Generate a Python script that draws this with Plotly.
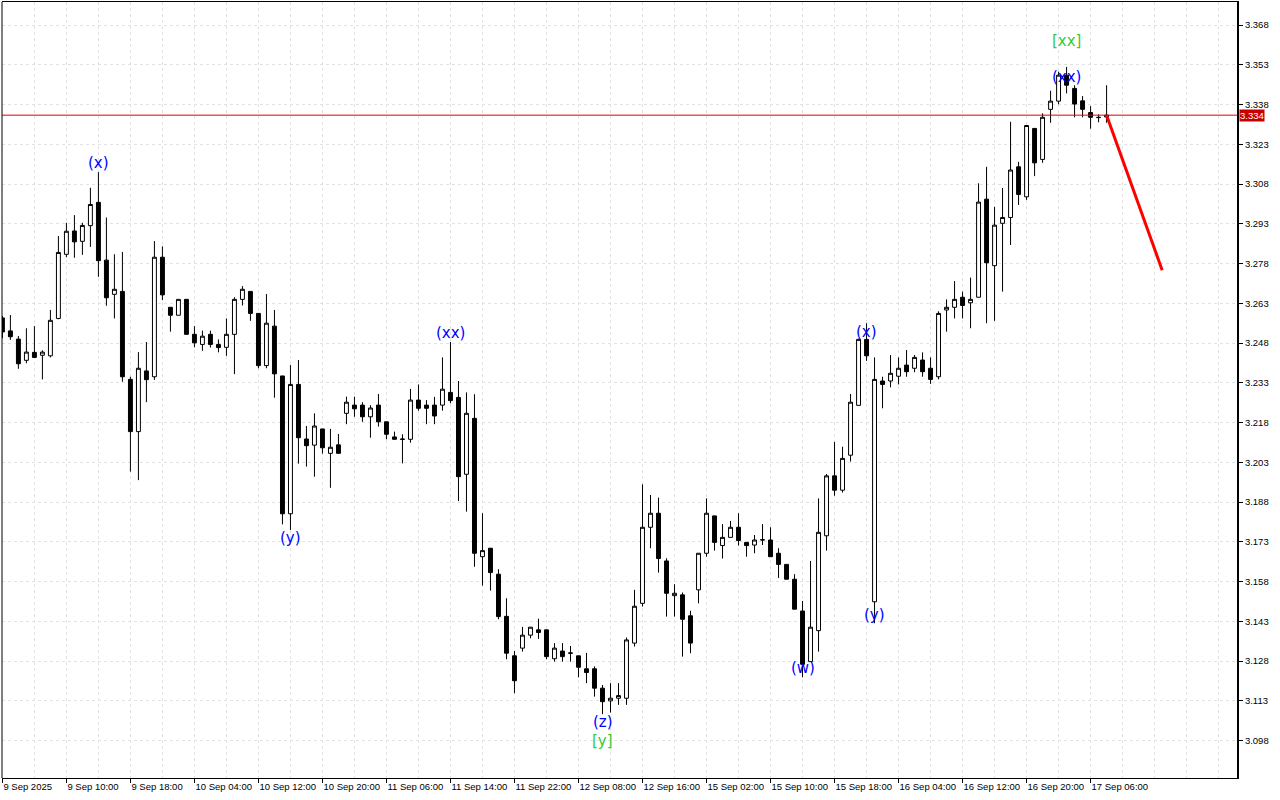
import plotly.graph_objects as go

# ---------------- data (hourly candles, index 0..138) ----------------
open_ = [3.2575, 3.2526, 3.2495, 3.2415, 3.2445, 3.2434, 3.2432, 3.2573, 3.2815, 3.2903,
         3.2864, 3.2923, 3.3011, 3.2793, 3.2664, 3.2675, 3.2343, 3.2146, 3.2375, 3.2353,
         3.2804, 3.2615, 3.2585, 3.2645, 3.2513, 3.2475, 3.2513, 3.2475, 3.2464, 3.2513,
         3.2645, 3.2675, 3.2592, 3.2395, 3.2544, 3.2356, 3.1836, 3.2324, 3.2118, 3.2095,
         3.2156, 3.2064, 3.2096, 3.2215, 3.2246, 3.2246, 3.2202, 3.2246, 3.2183, 3.2126,
         3.2118, 3.2117, 3.2265, 3.2246, 3.2246, 3.2246, 3.2294, 3.2275, 3.1985, 3.2196,
         3.1674, 3.1706, 3.1608, 3.1449, 3.1300, 3.1329, 3.1378, 3.1398, 3.1398, 3.1289,
         3.1318, 3.1311, 3.1300, 3.1251, 3.1251, 3.1178, 3.1130, 3.1140, 3.1140, 3.1348,
         3.1498, 3.1785, 3.1838, 3.1658, 3.1527, 3.1530, 3.1451, 3.1549, 3.1687, 3.1828,
         3.1716, 3.1747, 3.1785, 3.1728, 3.1718, 3.1737, 3.1737, 3.1687, 3.1645, 3.1589,
         3.1469, 3.1278, 3.1395, 3.1753, 3.1979, 3.1925, 3.2057, 3.2245, 3.2494, 3.1504,
         3.2337, 3.2337, 3.2355, 3.2397, 3.2385, 3.2416, 3.2385, 3.2353, 3.2605, 3.2615,
         3.2653, 3.2632, 3.2653, 3.3023, 3.2772, 3.2932, 3.2954, 3.3145, 3.3032, 3.3290,
         3.3173, 3.3362, 3.3393, 3.3491, 3.3441, 3.3394, 3.3350, 3.3332, 3.3333]
high = [3.2582, 3.2586, 3.2507, 3.2536, 3.2544, 3.2453, 3.2605, 3.2884, 3.2934, 3.2963,
        3.2934, 3.3066, 3.3125, 3.2954, 3.2815, 3.2824, 3.2353, 3.2446, 3.2484, 3.2865,
        3.2845, 3.2615, 3.2645, 3.2645, 3.2544, 3.2527, 3.2527, 3.2494, 3.2573, 3.2653,
        3.2695, 3.2675, 3.2592, 3.2665, 3.2605, 3.2356, 3.2397, 3.2416, 3.2167, 3.2215,
        3.2156, 3.2156, 3.2137, 3.2278, 3.2278, 3.2257, 3.2246, 3.2288, 3.2183, 3.2146,
        3.2136, 3.2307, 3.2324, 3.2265, 3.2277, 3.2426, 3.2484, 3.2337, 3.2294, 3.2287,
        3.1838, 3.1706, 3.1627, 3.1517, 3.1318, 3.1409, 3.1408, 3.1440, 3.1398, 3.1348,
        3.1348, 3.1337, 3.1300, 3.1311, 3.1260, 3.1190, 3.1197, 3.1197, 3.1369, 3.1549,
        3.1947, 3.1907, 3.1897, 3.1668, 3.1570, 3.1539, 3.1470, 3.1687, 3.1894, 3.1828,
        3.1797, 3.1809, 3.1838, 3.1728, 3.1756, 3.1797, 3.1785, 3.1706, 3.1645, 3.1608,
        3.1507, 3.1658, 3.1894, 3.1986, 3.2107, 3.2089, 3.2288, 3.2497, 3.2555, 3.2426,
        3.2353, 3.2435, 3.2426, 3.2454, 3.2435, 3.2445, 3.2426, 3.2600, 3.2645, 3.2714,
        3.2674, 3.2727, 3.3083, 3.3145, 3.2994, 3.3065, 3.3315, 3.3164, 3.3301, 3.3290,
        3.3347, 3.3432, 3.3504, 3.3522, 3.3453, 3.3412, 3.3374, 3.3343, 3.3453]
low = [3.2499, 3.2492, 3.2383, 3.2404, 3.2426, 3.2343, 3.2426, 3.2570, 3.2804, 3.2802,
       3.2813, 3.2843, 3.2730, 3.2621, 3.2573, 3.2334, 3.1995, 3.1963, 3.2257, 3.2341,
       3.2642, 3.2523, 3.2585, 3.2513, 3.2464, 3.2451, 3.2463, 3.2445, 3.2432, 3.2363,
       3.2622, 3.2564, 3.2385, 3.2385, 3.2274, 3.1796, 3.1775, 3.2025, 3.2014, 3.1976,
       3.2063, 3.1934, 3.2064, 3.2174, 3.2202, 3.2183, 3.2123, 3.2165, 3.2117, 3.2117,
       3.2026, 3.2104, 3.2225, 3.2174, 3.2174, 3.2225, 3.2253, 3.1884, 3.1844, 3.1636,
       3.1565, 3.1546, 3.1438, 3.1287, 3.1159, 3.1316, 3.1366, 3.1364, 3.1287, 3.1278,
       3.1278, 3.1278, 3.1219, 3.1197, 3.1146, 3.1080, 3.1086, 3.1115, 3.1115, 3.1335,
       3.1486, 3.1706, 3.1614, 3.1448, 3.1448, 3.1297, 3.1310, 3.1498, 3.1674, 3.1697,
       3.1667, 3.1747, 3.1716, 3.1674, 3.1687, 3.1718, 3.1674, 3.1594, 3.1589, 3.1476,
       3.1219, 3.1278, 3.1316, 3.1697, 3.1904, 3.1916, 3.2033, 3.2245, 3.2413, 3.1423,
       3.2234, 3.2313, 3.2324, 3.2353, 3.2370, 3.2353, 3.2326, 3.2343, 3.2523, 3.2573,
       3.2573, 3.2536, 3.2653, 3.2555, 3.2564, 3.2674, 3.2850, 3.3001, 3.3020, 3.3110,
       3.3160, 3.3311, 3.3381, 3.3422, 3.3332, 3.3332, 3.3289, 3.3313, 3.3311]
close = [3.2522, 3.2504, 3.2402, 3.2446, 3.2426, 3.2446, 3.2566, 3.2822, 3.2902, 3.2862,
         3.2924, 3.3003, 3.2791, 3.2651, 3.2683, 3.2353, 3.2146, 3.2385, 3.2342, 3.2804,
         3.2662, 3.2585, 3.2645, 3.2513, 3.2481, 3.2506, 3.2475, 3.2463, 3.2513, 3.2645,
         3.2683, 3.2592, 3.2395, 3.2555, 3.2364, 3.1836, 3.2324, 3.2123, 3.2093, 3.2167,
         3.2085, 3.2087, 3.2064, 3.2257, 3.2232, 3.2202, 3.2235, 3.2183, 3.2136, 3.2117,
         3.2117, 3.2265, 3.2234, 3.2234, 3.2205, 3.2306, 3.2263, 3.1976, 3.2215, 3.1687,
         3.1697, 3.1614, 3.1448, 3.1310, 3.1206, 3.1378, 3.1408, 3.1388, 3.1297, 3.1329,
         3.1297, 3.1310, 3.1257, 3.1237, 3.1178, 3.1127, 3.1140, 3.1150, 3.1360, 3.1487,
         3.1785, 3.1838, 3.1667, 3.1536, 3.1536, 3.1438, 3.1348, 3.1687, 3.1838, 3.1728,
         3.1747, 3.1785, 3.1735, 3.1716, 3.1737, 3.1738, 3.1674, 3.1645, 3.1589, 3.1476,
         3.1268, 3.1408, 3.1766, 3.1979, 3.1925, 3.2045, 3.2257, 3.2494, 3.2432, 3.2343,
         3.2324, 3.2366, 3.2385, 3.2372, 3.2426, 3.2372, 3.2343, 3.2592, 3.2615, 3.2645,
         3.2622, 3.2645, 3.3012, 3.2783, 3.2925, 3.2954, 3.3133, 3.3041, 3.3301, 3.3160,
         3.3332, 3.3393, 3.3491, 3.3453, 3.3382, 3.3362, 3.3332, 3.3331, 3.3340]

x_tick_idx = [0, 8, 16, 24, 32, 40, 48, 56, 64, 72, 80, 88, 96, 104, 112, 120, 128, 136]
x_tick_labels = ["9 Sep 2025", "9 Sep 10:00", "9 Sep 18:00", "10 Sep 04:00", "10 Sep 12:00",
                 "10 Sep 20:00", "11 Sep 06:00", "11 Sep 14:00", "11 Sep 22:00", "12 Sep 08:00",
                 "12 Sep 16:00", "15 Sep 02:00", "15 Sep 10:00", "15 Sep 18:00", "16 Sep 04:00",
                 "16 Sep 12:00", "16 Sep 20:00", "17 Sep 06:00"]
y_ticks = [3.098, 3.113, 3.128, 3.143, 3.158, 3.173, 3.188, 3.203, 3.218, 3.233,
           3.248, 3.263, 3.278, 3.293, 3.308, 3.323, 3.338, 3.353, 3.368]

current_price = 3.334
forecast_x = [138, 144.95]
forecast_y = [3.334, 3.2755]

wave_idx = [12, 36, 56, 75, 75, 100, 108, 109, 133, 133]
wave_price = [3.3159, 3.1745, 3.2518, 3.1051, 3.0979, 3.1254, 3.2522, 3.1454, 3.3484, 3.3619]
wave_text = ["(x)", "(y)", "(xx)", "(z)", "[y]", "(w)", "(x)", "(y)", "(xx)", "[xx]"]
wave_color = ["#0000ff", "#0000ff", "#0000ff", "#0000ff", "#33cc33", "#0000ff",
              "#0000ff", "#0000ff", "#0000ff", "#33cc33"]

idx = list(range(len(open_)))

fig = go.Figure()
fig.add_trace(go.Candlestick(
    x=idx, open=open_, high=high, low=low, close=close,
    increasing=dict(line=dict(color="black", width=1), fillcolor="white"),
    decreasing=dict(line=dict(color="black", width=1), fillcolor="black"),
    whiskerwidth=0, hoverinfo="skip", showlegend=False,
))
fig.add_trace(go.Scatter(
    x=forecast_x, y=forecast_y, mode="lines",
    line=dict(color="#ff0000", width=3), hoverinfo="skip", showlegend=False,
))

for i, p, t, c in zip(wave_idx, wave_price, wave_text, wave_color):
    fig.add_annotation(x=i, y=p, text=t, showarrow=False, xref="x", yref="y",
                       font=dict(family="DejaVu Sans", size=15, color=c),
                       xanchor="center", yanchor="middle")

# current price line and label
fig.add_shape(type="line", xref="paper", yref="y", x0=0, x1=1,
              y0=current_price, y1=current_price, line=dict(color="#e00000", width=1))
fig.add_annotation(xref="paper", yref="y", x=1, y=current_price, text=f"{current_price:.3f}",
                   showarrow=False, xanchor="left", yanchor="middle", xshift=2,
                   bgcolor="#c80000", borderpad=0,
                   font=dict(family="Liberation Sans", size=9.5, color="white"))
# left frame
fig.add_shape(type="line", xref="paper", yref="paper", x0=0, x1=0, y0=0, y1=1,
              line=dict(color="black", width=1))

grid_col = "#e2e2e2"
fig.update_layout(
    width=1280, height=800,
    margin=dict(l=2, r=43, t=2, b=22, autoexpand=False),
    paper_bgcolor="white", plot_bgcolor="white",
    boxgap=0.3,
    xaxis=dict(
        range=[-0.05, 154.3], rangeslider=dict(visible=False),
        tickmode="array", tickvals=x_tick_idx, ticktext=x_tick_labels,
        tickangle=0, automargin=False,
        ticks="outside", ticklen=4, tickcolor="black", tickwidth=1,
        ticklabelposition="outside right",
        tickfont=dict(family="Liberation Sans", size=9.5, color="black"),
        showgrid=True, gridcolor=grid_col, griddash="3px,3px", gridwidth=1,
        minor=dict(tickmode="linear", tick0=0, dtick=4, showgrid=True,
                   gridcolor=grid_col, griddash="3px,3px", gridwidth=1, ticks=""),
        showline=True, linecolor="black", linewidth=1, mirror=True,
        zeroline=False, fixedrange=True,
    ),
    yaxis=dict(
        range=[3.0839, 3.3767], side="right", automargin=False,
        tickmode="array", tickvals=y_ticks, ticktext=[f"{v:.3f}" for v in y_ticks],
        ticks="outside", ticklen=4, tickcolor="black", tickwidth=1,
        tickfont=dict(family="Liberation Sans", size=9.5, color="black"),
        showgrid=True, gridcolor=grid_col, griddash="3px,3px", gridwidth=1,
        showline=True, linecolor="black", linewidth=2,
        zeroline=False, fixedrange=True,
    ),
)

fig.write_html(
    "out.html",
    config={"displayModeBar": False},
    post_script="document.body.style.margin='0px';document.body.style.overflow='hidden';",
)
